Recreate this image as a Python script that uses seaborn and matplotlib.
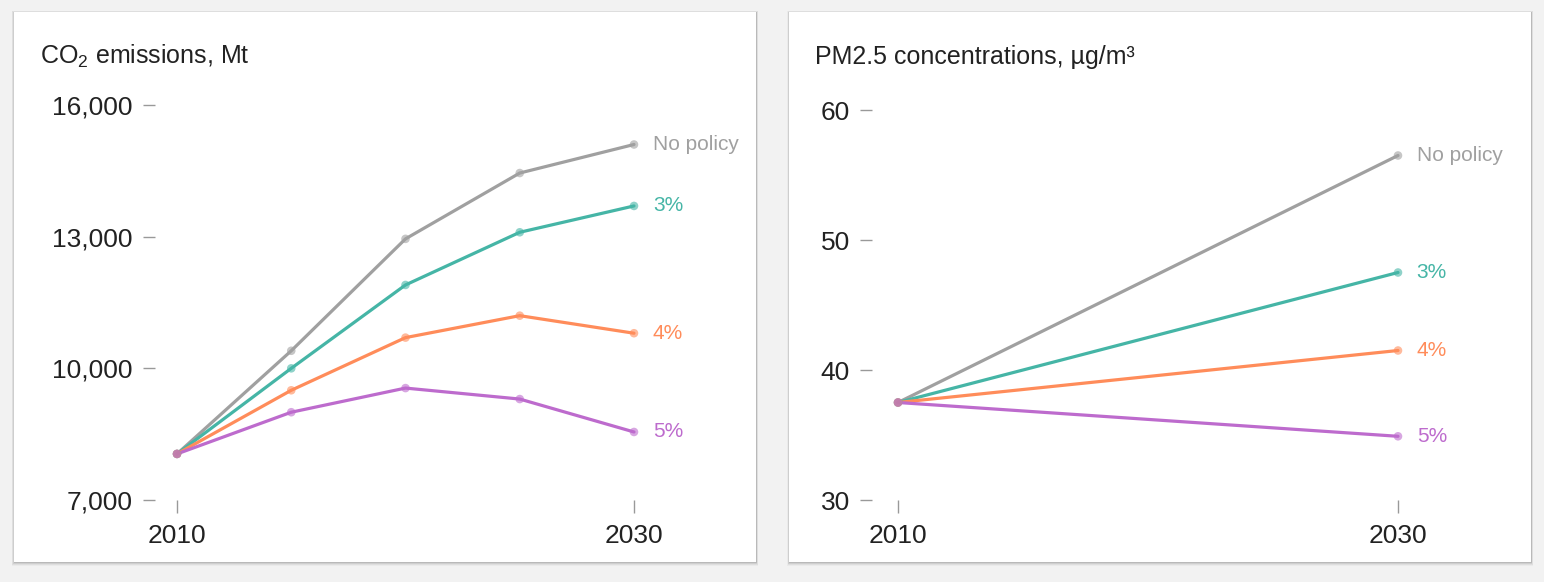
import matplotlib
matplotlib.use("Agg")
import matplotlib.pyplot as plt
from matplotlib.patches import Rectangle
import seaborn as sns
import pandas as pd

# data
years = [2010, 2015, 2020, 2025, 2030]
co2_no_policy = [8050, 10400, 12950, 14450, 15100]
co2_3pct = [8050, 10000, 11900, 13100, 13700]
co2_4pct = [8050, 9500, 10700, 11200, 10800]
co2_5pct = [8050, 9000, 9550, 9300, 8550]

pm_years = [2010, 2030]
pm_no_policy = [37.5, 56.5]
pm_3pct = [37.5, 47.5]
pm_4pct = [37.5, 41.5]
pm_5pct = [37.5, 34.9]

scenarios = ["No policy", "3%", "4%", "5%"]
palette = {"No policy": "#a0a0a0", "3%": "#45b5a6", "4%": "#ff8c5a", "5%": "#bd6bcd"}

co2_yticks = [7000, 10000, 13000, 16000]
pm_yticks = [30, 40, 50, 60]

sns.set_theme(style="white")
plt.rcParams["font.family"] = ["Liberation Sans", "DejaVu Sans"]
plt.rcParams["mathtext.fontset"] = "custom"
plt.rcParams["mathtext.rm"] = "Liberation Sans"
plt.rcParams["mathtext.default"] = "regular"

W, H = 1544, 582
fig = plt.figure(figsize=(W / 100, H / 100), dpi=100)
fig.patch.set_facecolor("#f2f2f2")


def px(x0, y0, x1, y1):
    # pixel box (from top-left) -> figure fraction rect
    return [x0 / W, 1 - y1 / H, (x1 - x0) / W, (y1 - y0) / H]


def card(x0, y0, x1, y1):
    for off, a in [(4, 0.03), (3, 0.05), (2, 0.07), (1, 0.1)]:
        fig.patches.append(Rectangle(((x0 - off * 0.5) / W, 1 - (y1 + off) / H),
                                     (x1 - x0 + off) / W, (y1 - y0 + off * 1.2) / H,
                                     transform=fig.transFigure, facecolor="black", alpha=a,
                                     edgecolor="none", zorder=-3))
    fig.patches.append(Rectangle((x0 / W, 1 - y1 / H), (x1 - x0) / W, (y1 - y0) / H,
                                 transform=fig.transFigure, facecolor="white",
                                 edgecolor="none", zorder=-2))


card(14, 12, 756, 562)
card(789, 12, 1531, 562)


def long_form(xs, series):
    rows = []
    for name, vals in zip(scenarios, series):
        for x, v in zip(xs, vals):
            rows.append({"year": x, "value": v, "scenario": name})
    return pd.DataFrame(rows)


def panel(rect, xlim, ylim, df, yticks, yfmt):
    ax = fig.add_axes(rect)
    ax.set_facecolor("none")
    for name in scenarios:
        d = df[df.scenario == name]
        sns.lineplot(data=d, x="year", y="value", color=palette[name], linewidth=2.3,
                     ax=ax, clip_on=False, legend=False)
        sns.scatterplot(data=d, x="year", y="value", color=palette[name], s=38, alpha=0.6,
                        edgecolor="none", ax=ax, clip_on=False, legend=False, zorder=3)
        last = d.iloc[-1]
        ax.annotate(name, (last.year, last.value), xytext=(13.5, 0), textcoords="offset points",
                    va="center", ha="left", fontsize=15, color=palette[name])
    ax.set_xlim(*xlim)
    ax.set_ylim(*ylim)
    ax.set_xticks([2010, 2030])
    ax.set_xticklabels(["2010", "2030"])
    ax.set_yticks(yticks)
    ax.set_yticklabels([yfmt(v) for v in yticks])
    ax.set_xlabel("")
    ax.set_ylabel("")
    sns.despine(ax=ax, left=True, bottom=True)
    ax.tick_params(axis="both", direction="out", length=9, width=1, color="#999999",
                   labelsize=19, labelcolor="#222222", left=True, bottom=True)
    ax.tick_params(axis="y", pad=7)
    ax.tick_params(axis="x", pad=8)
    return ax


co2_df = long_form(years, [co2_no_policy, co2_3pct, co2_4pct, co2_5pct])
pm_df = long_form(pm_years, [pm_no_policy, pm_3pct, pm_4pct, pm_5pct])

ppy1 = (634 - 177) / 20
panel(px(155, 105, 660, 500), (2010 - 22 / ppy1, 2010 + (660 - 177) / ppy1), (7000, 16000),
      co2_df, co2_yticks, lambda v: f"{v:,}")
ppy2 = (1398 - 898) / 20
panel(px(872, 110, 1420, 500), (2010 - 26 / ppy2, 2010 + (1420 - 898) / ppy2), (30, 60),
      pm_df, pm_yticks, lambda v: f"{v}")

fig.text(40 / W, 1 - 64 / H, "CO$_2$ emissions, Mt", fontsize=18, color="#222222", va="baseline")
fig.text(815 / W, 1 - 64 / H, "PM2.5 concentrations, µg/m³", fontsize=18, color="#222222",
         va="baseline")

fig.savefig("out.png", dpi=100, facecolor=fig.get_facecolor())
